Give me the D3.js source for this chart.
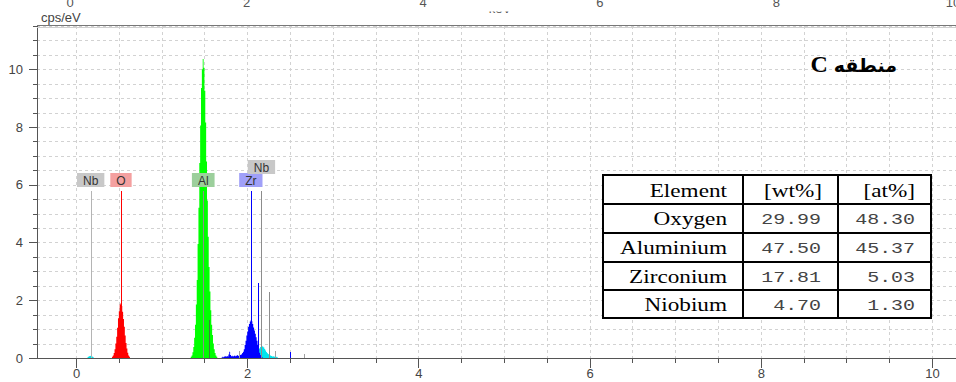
<!DOCTYPE html>
<html>
<head>
<meta charset="utf-8">
<style>
  body { margin: 0; background: #fff; }
  svg { display: block; font-family: "Liberation Sans", Arial, sans-serif; }
  .grid line { stroke: #d2d2d2; stroke-dasharray: 3,3; shape-rendering: crispEdges; }
  .axis path, .axis line { stroke: #555; shape-rendering: crispEdges; }
  .axis text { fill: #444; font-size: 13px; font-family: "Liberation Sans", Arial, sans-serif; }
  .tbl line, .tbl rect { shape-rendering: crispEdges; }
  .mark { shape-rendering: crispEdges; }
</style>
<script src="https://cdn.jsdelivr.net/npm/d3@7"></script>
</head>
<body>
<svg width="956" height="382"></svg>
<script>

// spectrum channels, 0.01 keV wide, values in cps/eV
var nbMStart = 0.13,
    nbMCounts = [0.02, 0.04, 0.06, 0.07, 0.08, 0.06, 0.04, 0.02];
var oStart = 0.42,
    oCounts = [0.04, 0.09, 0.17, 0.30, 0.50, 0.74, 1.05, 1.38, 1.62, 1.85, 1.90,
               1.80, 1.60, 1.35, 1.08, 0.78, 0.52, 0.33, 0.18, 0.09, 0.04];
var alStart = 1.34,
    alCounts = [0.04, 0.09, 0.20, 0.38, 0.70, 1.15, 1.85, 2.70, 3.95, 5.20, 6.75,
                8.05, 9.35, 10.00, 10.35, 10.05, 9.25, 8.15, 6.80, 5.45, 4.20,
                3.15, 2.30, 1.65, 1.15, 0.80, 0.50, 0.30, 0.17, 0.09, 0.04];
var zrStart = 1.70,
    zrCounts = [0.02, 0.04, 0.03, 0.05, 0.06, 0.04, 0.07, 0.05, 0.12, 0.22, 0.10,
                0.06, 0.08, 0.05, 0.07, 0.09, 0.06, 0.08, 0.10, 0.07, 0.09, 0.11,
                0.10, 0.13, 0.17, 0.22, 0.30, 0.45, 0.60, 0.78, 0.92, 1.08, 1.18,
                1.26, 1.31, 1.27, 1.18, 1.06, 0.95, 0.84, 0.72, 0.60, 0.46, 0.30,
                0.18, 0.10, 0.05, 0.03];
var nbLStart = 2.12,
    nbLCounts = [0.25, 0.30, 0.34, 0.38, 0.40, 0.41, 0.39, 0.36, 0.31, 0.26, 0.21,
                 0.17, 0.14, 0.12, 0.10, 0.08, 0.07, 0.05, 0.06, 0.04, 0.05, 0.03,
                 0.04, 0.02];

// element line markers
var markEnergies = [0.171, 0.525, 1.486, 1.557, 2.042, 2.124, 2.166, 2.257, 1.902, 2.32, 2.50, 2.66];
var markHeights  = [5.78, 5.78, 5.78, 1.3, 5.78, 2.6, 5.78, 2.3, 0.25, 0.25, 0.2, 0.15];
var markColors   = ["#b4b4b4", "#ff0000", "#8c8c8c", "#3f7f3f", "#0000ff", "#0000ff",
                    "#8c8c8c", "#8c8c8c", "#a0a0a0", "#a0a0a0", "#0000ff", "#a0a0a0"];

var labelNames    = ["Nb", "O", "Al", "Zr", "Nb"];
var labelEnergies = [0.171, 0.525, 1.486, 2.042, 2.166];
var labelRows     = [0, 0, 0, 0, 1];
var labelFills    = ["#c8c8c8", "#f4a0a0", "#9ccf9c", "#a0a0f8", "#c8c8c8"];

var xTicks = [0, 2, 4, 6, 8, 10];
var yTicks = [0, 2, 4, 6, 8, 10];

var elements = ["Oxygen", "Aluminium", "Zirconium", "Niobium"];
var wtPct = ["29.99", "47.50", "17.81", "4.70"];
var atPct = ["48.30", "45.37", "5.03", "1.30"];

var svg = d3.select("svg");

var x = d3.scaleLinear().domain([-0.456, 10.28]).range([37, 956]);
var y = d3.scaleLinear().domain([0, 11.53]).range([358, 25]);
var xTop = d3.scaleLinear().domain([0, 10]).range([70, 953]);

var minorX = d3.range(0, 10.01, 0.5),
    minorY = d3.range(0.5, 11.51, 0.5);

// grid
var grid = svg.append("g").attr("class", "grid");
grid.selectAll(".gx").data(minorX).enter().append("line")
    .attr("x1", function(d) { return Math.round(x(d)) + 0.5; })
    .attr("x2", function(d) { return Math.round(x(d)) + 0.5; })
    .attr("y1", 26).attr("y2", 358);
grid.selectAll(".gy").data(minorY).enter().append("line")
    .attr("x1", 37).attr("x2", 956)
    .attr("y1", function(d) { return Math.round(y(d)) + 0.5; })
    .attr("y2", function(d) { return Math.round(y(d)) + 0.5; });

// spectrum
svg.append("clipPath").attr("id", "plot")
  .append("rect").attr("x", 37).attr("y", 25).attr("width", 919).attr("height", 333);

var area = d3.area()
    .curve(d3.curveStepAfter)
    .x(function(d) { return x(d.e); })
    .y0(y(0))
    .y1(function(d) { return y(d.v); });

function channels(start, counts) {
  var pts = counts.map(function(v, i) { return {e: start + i * 0.01, v: v}; });
  pts.push({e: start + counts.length * 0.01, v: 0});
  return pts;
}

var spec = svg.append("g").attr("clip-path", "url(#plot)");
[[nbMStart, nbMCounts, "#00e5ee"],
 [nbLStart, nbLCounts, "#00e5ee"],
 [oStart, oCounts, "#ff0000"],
 [alStart, alCounts, "#00ff00"],
 [zrStart, zrCounts, "#0000ff"]].forEach(function(s) {
  spec.append("path")
      .datum(channels(s[0], s[1]))
      .attr("fill", s[2])
      .attr("d", area);
});

// marker lines
svg.append("g").selectAll("line").data(markEnergies).enter().append("line")
    .attr("class", "mark")
    .attr("x1", function(d) { return Math.round(x(d)) + 0.5; })
    .attr("x2", function(d) { return Math.round(x(d)) + 0.5; })
    .attr("y1", y(0))
    .attr("y2", function(d, i) { return y(markHeights[i]); })
    .style("stroke", function(d, i) { return markColors[i]; })
    .style("stroke-width", 1);

// marker labels
var labs = svg.append("g").selectAll("g").data(labelNames).enter().append("g")
    .attr("transform", function(d, i) {
      return "translate(" + x(labelEnergies[i]) + "," + (labelRows[i] ? 160 : 173) + ")";
    });
labs.append("rect");
labs.append("text")
    .attr("text-anchor", "middle")
    .attr("y", 11.5)
    .attr("font-size", "12px")
    .attr("fill", "#333")
    .text(function(d) { return d; });
labs.each(function(d, i) {
  var g = d3.select(this),
      w = g.select("text").node().getComputedTextLength() + 12;
  g.select("rect")
      .attr("x", -w / 2).attr("y", 0)
      .attr("width", w).attr("height", 14)
      .attr("fill", labelFills[i]);
});

// axes
svg.append("g")
    .attr("class", "axis")
    .attr("transform", "translate(0,358)")
    .call(d3.axisBottom(x).tickValues(minorX).tickSize(5).tickSizeOuter(0).tickFormat(""));
svg.append("g")
    .attr("class", "axis")
    .attr("transform", "translate(0,358)")
    .call(d3.axisBottom(x).tickValues(xTicks).tickSize(10).tickSizeOuter(0).tickPadding(1))
  .select(".domain").remove();

svg.append("g")
    .attr("class", "axis")
    .attr("transform", "translate(37,0)")
    .call(d3.axisLeft(y).tickValues(minorY).tickSize(4).tickSizeOuter(0).tickFormat(""));
svg.append("g")
    .attr("class", "axis")
    .attr("transform", "translate(37,0)")
    .call(d3.axisLeft(y).tickValues(yTicks).tickSize(8).tickSizeOuter(0).tickPadding(6))
  .select(".domain").remove();

// top border
svg.append("line").attr("x1", 37).attr("x2", 956).attr("y1", 25.5).attr("y2", 25.5)
    .attr("stroke", "#777");
svg.append("line").attr("x1", 37).attr("x2", 956).attr("y1", 27.5).attr("y2", 27.5)
    .attr("stroke", "#d0d0d0");

// top axis labels (cut off by the picture edge)
svg.append("g").selectAll("text").data(xTicks).enter().append("text")
    .attr("x", function(d) { return xTop(d); })
    .attr("y", 7)
    .attr("text-anchor", "middle")
    .attr("font-size", "13px")
    .attr("fill", "#555")
    .text(function(d) { return d; });

svg.append("clipPath").attr("id", "kevclip")
  .append("rect").attr("x", 470).attr("y", 11.5).attr("width", 60).attr("height", 2);
svg.append("text")
    .attr("x", 500).attr("y", 13)
    .attr("text-anchor", "middle")
    .attr("font-size", "13px")
    .attr("fill", "#555")
    .attr("clip-path", "url(#kevclip)")
    .text("keV");

svg.append("text")
    .attr("x", 41).attr("y", 22)
    .attr("font-size", "13px")
    .attr("fill", "#444")
    .text("cps/eV");

// title
var title = svg.append("text")
    .attr("x", 897).attr("y", 72)
    .attr("text-anchor", "end")
    .attr("font-weight", "bold")
    .attr("fill", "#000");
title.append("tspan")
    .attr("font-family", "'Liberation Serif', 'Times New Roman', serif")
    .attr("font-size", "24px")
    .text("C ");
title.append("tspan")
    .attr("font-family", "'DejaVu Sans', sans-serif")
    .attr("font-size", "19px")
    .text("منطقه");

// composition table
var colX = [602.5, 742.5, 838, 931],
    rowY = [174.5, 204, 233, 261.5, 290, 318];
var tbl = svg.append("g").attr("class", "tbl");
tbl.append("rect")
    .attr("x", colX[0]).attr("y", rowY[0])
    .attr("width", colX[3] - colX[0]).attr("height", rowY[5] - rowY[0])
    .attr("fill", "#fff").attr("stroke", "#000").attr("stroke-width", 2);
tbl.selectAll(".rl").data(rowY.slice(1, 5)).enter().append("line")
    .attr("x1", colX[0]).attr("x2", colX[3])
    .attr("y1", function(d) { return d; }).attr("y2", function(d) { return d; })
    .attr("stroke", "#000").attr("stroke-width", 2);
tbl.selectAll(".cl").data(colX.slice(1, 3)).enter().append("line")
    .attr("y1", rowY[0]).attr("y2", rowY[5])
    .attr("x1", function(d) { return d; }).attr("x2", function(d) { return d; })
    .attr("stroke", "#000").attr("stroke-width", 2);

function cell(txt, xr, base, mono) {
  tbl.append("text")
      .attr("transform", "translate(" + xr + "," + base + ") scale(" + (mono ? 1.33 : 1.29) + ",1)")
      .attr("text-anchor", "end")
      .attr("font-family", mono ? "'Liberation Mono', 'Courier New', monospace"
                                : "'Liberation Serif', 'Times New Roman', serif")
      .attr("font-size", mono ? "15px" : "18px")
      .attr("fill", mono ? "#444" : "#000")
      .text(txt);
}
cell("Element", 727, rowY[0] + 22, false);
cell("[wt%]", 822, rowY[0] + 22, false);
cell("[at%]", 915, rowY[0] + 22, false);
elements.forEach(function(el, i) {
  var base = rowY[i + 1] + 21;
  cell(el, 727, base, false);
  cell(wtPct[i], 821, base - 1, true);
  cell(atPct[i], 915, base - 1, true);
});

</script>
</body>
</html>
